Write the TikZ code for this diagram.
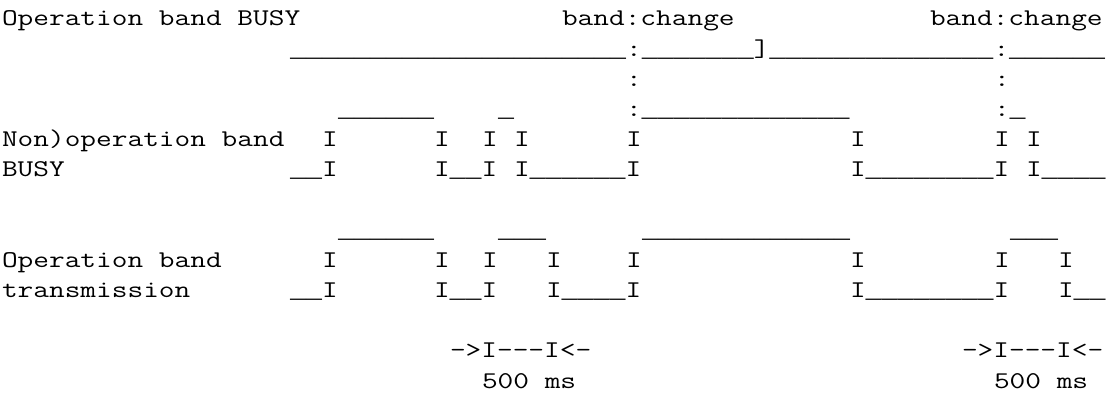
\documentclass[tikz,border=0pt]{standalone}
\usepackage{fontspec}
\usepackage{graphicx}
\newfontfamily\usfont{Liberation Mono}
\newcommand\U[1]{\scalebox{0.78753}[1]{\usfont\fontsize{26.667}{30}\selectfont\foreach \k in {1,...,#1}{\_}}}
\newcommand\asc[4]{\node[asciirow] (#1) at ({2+16*#2},{369-30.17*(#3-1)}) {\scalebox{1.2698}[1]{#4}};}
\tikzset{asciirow/.style={anchor=base west, inner sep=0pt, outer sep=0pt,
  font=\ttfamily\fontsize{24}{30}\selectfont, text=black}}
\begin{document}
\begin{tikzpicture}[x=1pt,y=1pt]
\fill[white] (0,0) rectangle (1113,395);
\useasboundingbox (0,0) rectangle (1113,395);
% row 1
\asc{t1}{0}{1}{Operation band BUSY}
\asc{t2}{35}{1}{band:change}
\asc{t3}{58}{1}{band:change}
% row 2
\asc{b2}{18}{2}{\U{21}:\U{7}]\U{14}:\U{6}}
% row 3
\asc{c3a}{39}{3}{:}
\asc{c3b}{62}{3}{:}
% row 4
\asc{u4a}{21}{4}{\U{6}}
\asc{u4b}{31}{4}{\U{1}}
\asc{u4c}{39}{4}{:\U{13}}
\asc{u4d}{62}{4}{:\U{1}}
% row 5
\asc{n5}{0}{5}{Non)operation band}
\foreach \c in {20,27,30,32,39,53,62,64}{\asc{i5-\c}{\c}{5}{I}}
% row 6
\asc{n6}{0}{6}{BUSY}
\asc{s6a}{18}{6}{\U{2}I}
\asc{s6b}{27}{6}{I\U{2}I}
\asc{s6c}{32}{6}{I\U{6}I}
\asc{s6d}{53}{6}{I\U{8}I}
\asc{s6e}{64}{6}{I\U{4}}
% row 8
\asc{u8a}{21}{8}{\U{6}}
\asc{u8b}{31}{8}{\U{3}}
\asc{u8c}{40}{8}{\U{13}}
\asc{u8d}{63}{8}{\U{3}}
% row 9
\asc{n9}{0}{9}{Operation band}
\foreach \c in {20,27,30,34,39,53,62,66}{\asc{i9-\c}{\c}{9}{I}}
% row 10
\asc{n10}{0}{10}{transmission}
\asc{s10a}{18}{10}{\U{2}I}
\asc{s10b}{27}{10}{I\U{2}I}
\asc{s10c}{34}{10}{I\U{4}I}
\asc{s10d}{53}{10}{I\U{8}I}
\asc{s10e}{66}{10}{I\U{2}}
% rows 12-13
\asc{m12a}{28}{12}{->I---I<-}
\asc{m12b}{60}{12}{->I---I<-}
\asc{m13a}{30}{13}{500 ms}
\asc{m13b}{62}{13}{500 ms}
\end{tikzpicture}
\end{document}
